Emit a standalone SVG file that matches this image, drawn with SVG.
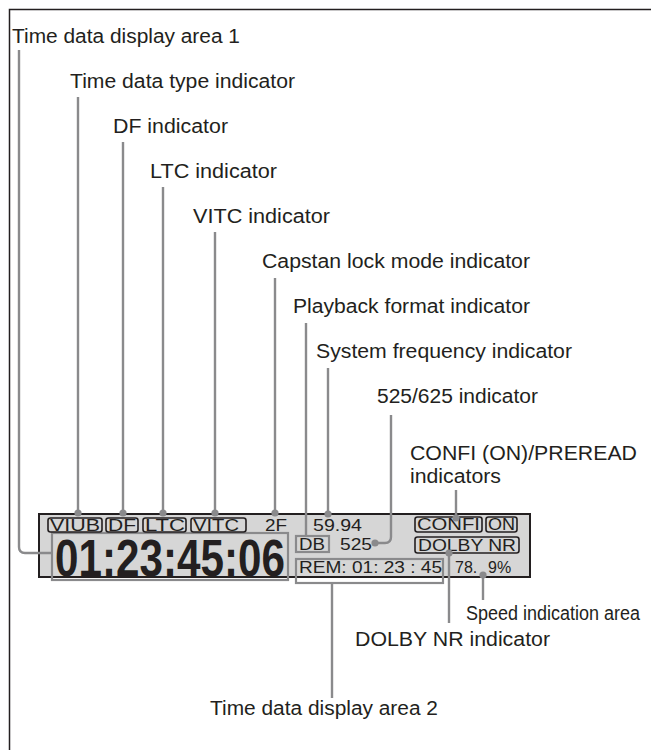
<svg xmlns="http://www.w3.org/2000/svg" width="651" height="750" viewBox="0 0 651 750">
<style>
.lbl{font-family:"Liberation Sans",Arial,sans-serif;font-size:19.5px;fill:#231f20}
.pt{font-family:"Liberation Sans",Arial,sans-serif;font-size:16px;fill:#231f20}
.big{font-family:"Liberation Sans",Arial,sans-serif;font-size:52px;font-weight:bold;fill:#231f20}
.ind{fill:none;stroke:#231f20;stroke-width:1.6}
.gbox{fill:none;stroke:#8a8a8c;stroke-width:2.2}
.con{fill:none;stroke:#8a8a8c;stroke-width:2.4}
.dot{fill:#8a8a8c}
</style>
<rect width="651" height="750" fill="#fff"/>
<path d="M9.5,750 V9.5 H651" fill="none" stroke="#231f20" stroke-width="1.5"/>

<g id="panel">
<rect x="39" y="514" width="491" height="63" fill="#d6d6d6" stroke="#231f20" stroke-width="2"/>
</g>

<g id="time-area-1">
<rect class="gbox" x="52" y="533" width="236" height="47"/>
<text class="big" x="55" y="576" textLength="230" lengthAdjust="spacingAndGlyphs">01:23:45:06</text>
</g>
<g id="viub"><rect class="ind" x="48" y="518" width="54" height="14" rx="2.5"/><text class="pt" x="50" y="531" textLength="50" lengthAdjust="spacingAndGlyphs">VIUB</text></g>
<g id="df"><rect class="ind" x="106" y="518" width="32" height="14" rx="2.5"/><text class="pt" x="108" y="531" textLength="28" lengthAdjust="spacingAndGlyphs">DF</text></g>
<g id="ltc"><rect class="ind" x="143" y="518" width="43" height="14" rx="2.5"/><text class="pt" x="145" y="531" textLength="40" lengthAdjust="spacingAndGlyphs">LTC</text></g>
<g id="vitc"><rect class="ind" x="191" y="518" width="55" height="14" rx="2.5"/><text class="pt" x="193" y="531" textLength="46" lengthAdjust="spacingAndGlyphs">VITC</text></g>
<g id="capstan"><text class="pt" x="265" y="531" textLength="22" lengthAdjust="spacingAndGlyphs">2F</text></g>
<g id="sysfreq"><text class="pt" x="313" y="531" textLength="49" lengthAdjust="spacingAndGlyphs">59.94</text></g>
<g id="db"><rect class="gbox" x="296" y="536" width="33" height="16"/><text class="pt" x="299" y="550" textLength="26" lengthAdjust="spacingAndGlyphs">DB</text></g>
<g id="n525"><text class="pt" x="340" y="550" textLength="32" lengthAdjust="spacingAndGlyphs">525</text></g>
<g id="confi"><rect class="ind" x="415" y="517" width="67" height="15" rx="2.5"/><text class="pt" x="417" y="530" textLength="63" lengthAdjust="spacingAndGlyphs">CONFI</text></g>
<g id="on"><rect class="ind" x="486" y="517" width="31" height="15" rx="2.5"/><text class="pt" x="488" y="530" textLength="27" lengthAdjust="spacingAndGlyphs">ON</text></g>
<g id="dolby"><rect class="ind" x="415" y="537" width="104" height="16" rx="2.5"/><text class="pt" x="418" y="551" textLength="98" lengthAdjust="spacingAndGlyphs">DOLBY NR</text></g>
<g id="time-area-2"><rect class="gbox" x="296" y="559" width="147" height="24"/><text class="pt" x="299" y="573" textLength="143" lengthAdjust="spacingAndGlyphs">REM: 01: 23 : 45</text></g>
<g id="speed"><text class="pt" y="573" font-size="17"><tspan x="455">78.</tspan><tspan x="488">9%</tspan></text></g>

<g id="connectors">
<path class="con" d="M19,50 V547 Q19,553 25,553 H52"/>
<path class="con" d="M78,97 V513"/>
<path class="con" d="M123,142 V513"/>
<path class="con" d="M163,187 V513"/>
<path class="con" d="M215,232 V513"/>
<path class="con" d="M275,278 V513"/>
<path class="con" d="M306,323 V536"/>
<path class="con" d="M328,368 V514"/>
<path class="con" d="M391,415 V537 Q391,543 385,543 H375"/>
<path class="con" d="M456,490 V518"/>
<path class="con" d="M449,553 V623"/>
<path class="con" d="M483,575 V600"/>
<path class="con" d="M332,583 V698"/>
<circle class="dot" cx="78" cy="513" r="3.6"/>
<circle class="dot" cx="123" cy="513" r="3.6"/>
<circle class="dot" cx="163" cy="513" r="3.6"/>
<circle class="dot" cx="215" cy="513" r="3.6"/>
<circle class="dot" cx="275" cy="513" r="3.6"/>
<circle class="dot" cx="328" cy="514" r="3.6"/>
<circle class="dot" cx="375" cy="543" r="3.6"/>
<circle class="dot" cx="456" cy="518" r="3.6"/>
<circle class="dot" cx="449" cy="553" r="3.6"/>
<circle class="dot" cx="483" cy="575" r="3.6"/>
</g>

<g id="labels">
<text class="lbl" x="12" y="43" textLength="228" lengthAdjust="spacingAndGlyphs">Time data display area 1</text>
<text class="lbl" x="70" y="88" textLength="225" lengthAdjust="spacingAndGlyphs">Time data type indicator</text>
<text class="lbl" x="113" y="133" textLength="115" lengthAdjust="spacingAndGlyphs">DF indicator</text>
<text class="lbl" x="150" y="178" textLength="127" lengthAdjust="spacingAndGlyphs">LTC indicator</text>
<text class="lbl" x="193" y="223" textLength="137" lengthAdjust="spacingAndGlyphs">VITC indicator</text>
<text class="lbl" x="262" y="268" textLength="268" lengthAdjust="spacingAndGlyphs">Capstan lock mode indicator</text>
<text class="lbl" x="293" y="313" textLength="237" lengthAdjust="spacingAndGlyphs">Playback format indicator</text>
<text class="lbl" x="316" y="358" textLength="256" lengthAdjust="spacingAndGlyphs">System frequency indicator</text>
<text class="lbl" x="377" y="403" textLength="161" lengthAdjust="spacingAndGlyphs">525/625 indicator</text>
<text class="lbl" x="410" y="460" textLength="227" lengthAdjust="spacingAndGlyphs">CONFI (ON)/PREREAD</text>
<text class="lbl" x="410" y="483" textLength="91" lengthAdjust="spacingAndGlyphs">indicators</text>
<text class="lbl" x="466" y="620" font-size="18" textLength="174" lengthAdjust="spacingAndGlyphs">Speed indication area</text>
<text class="lbl" x="355" y="646" textLength="195" lengthAdjust="spacingAndGlyphs">DOLBY NR indicator</text>
<text class="lbl" x="210" y="715" textLength="228" lengthAdjust="spacingAndGlyphs">Time data display area 2</text>
</g>
</svg>
